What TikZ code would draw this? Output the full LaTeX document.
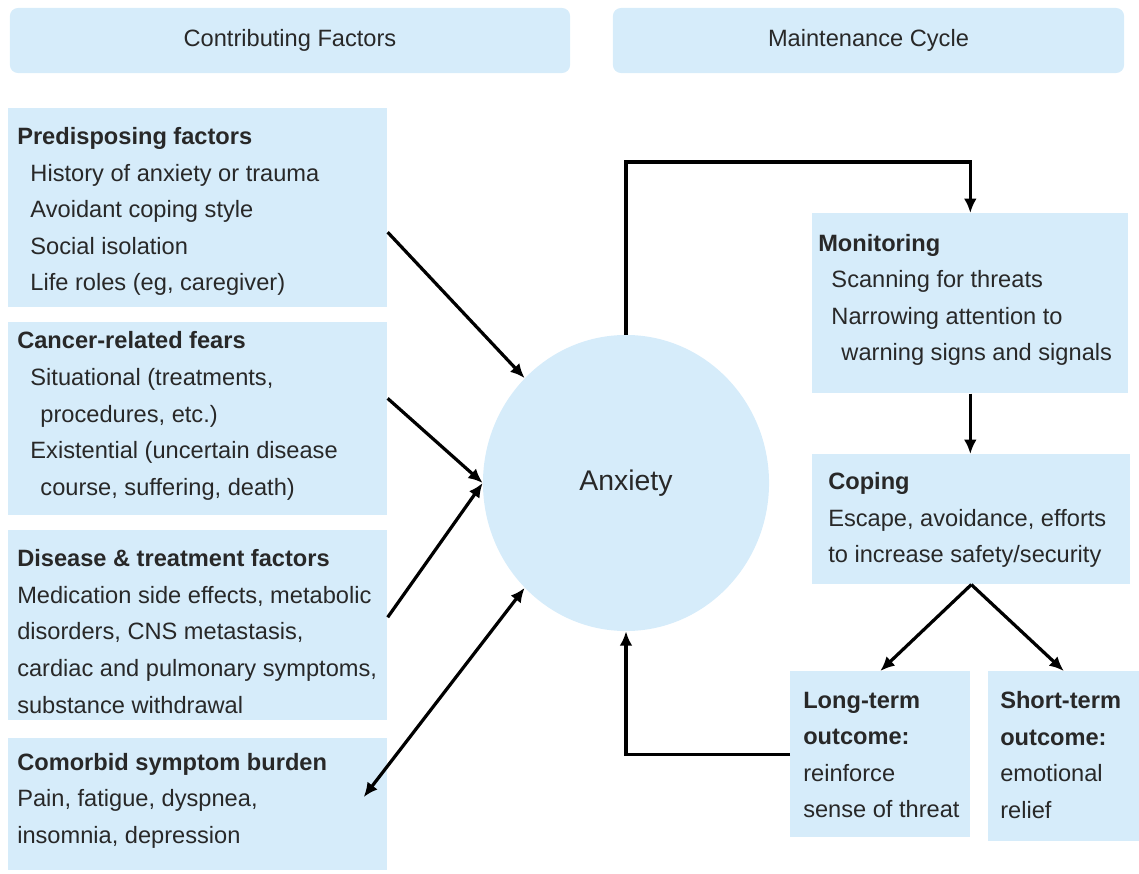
\documentclass[tikz,border=0pt]{standalone}
\usepackage{fontspec}
\setmainfont{Liberation Sans}
\usetikzlibrary{arrows.meta,shapes.geometric}
\definecolor{cardblue}{RGB}{214,236,250}
\definecolor{inkgray}{RGB}{40,40,40}
\newcommand{\ind}{\hspace*{0.33cm}}
\newcommand{\indd}{\hspace*{0.58cm}}
\tikzset{
  card/.style={fill=cardblue, inner sep=0pt, anchor=north west},
  head/.style={fill=cardblue, rounded corners=0.2cm, inner sep=0pt, text=inkgray, font=\fontsize{16.8}{20}\selectfont},
  cardtxt/.style={anchor=west, align=left, inner sep=0pt, text=inkgray, font=\fontsize{16.8}{26}\selectfont},
  arr/.style={-{Latex[length=0.36cm,width=0.32cm]}, line width=2.3pt},
  arrtwo/.style={{Latex[length=0.36cm,width=0.32cm]}-{Latex[length=0.36cm,width=0.32cm]}, line width=2.3pt}
}
\begin{document}
\begin{tikzpicture}[x=0.025cm, y=-0.025cm]
\useasboundingbox (0,0) rectangle (1139,874);
\node[head, minimum width=14cm, minimum height=1.625cm] (hcf) at (290,40.5) {Contributing Factors};
\node[head, minimum width=12.775cm, minimum height=1.625cm] (hmc) at (868.5,40.5) {Maintenance Cycle};

\node[card, minimum width=9.475cm, minimum height=4.975cm] (pre) at (8,108) {};
\node[card, minimum width=9.475cm, minimum height=4.825cm] (cfr) at (8,322) {};
\node[card, minimum width=9.475cm, minimum height=4.75cm] (dis) at (8,530) {};
\node[card, minimum width=9.475cm, minimum height=3.3cm] (com) at (8,738) {};
\node[cardtxt] (pret) at (17,211.5) {\textbf{Predisposing factors}\\\ind History of anxiety or trauma\\\ind Avoidant coping style\\\ind Social isolation\\\ind Life roles (eg, caregiver)};
\node[cardtxt] (cfrt) at (17,416) {\textbf{Cancer-related fears}\\\ind Situational (treatments,\\\indd procedures, etc.)\\\ind Existential (uncertain disease\\\indd course, suffering, death)};
\node[cardtxt] (dist) at (17,631.5) {\textbf{Disease \& treatment factors}\\Medication side effects, metabolic\\disorders, CNS metastasis,\\cardiac and pulmonary symptoms,\\substance withdrawal};
\node[cardtxt] (comt) at (17,800.5) {\textbf{Comorbid symptom burden}\\Pain, fatigue, dyspnea,\\insomnia, depression};

\node[ellipse, fill=cardblue, minimum width=7.15cm, minimum height=7.4cm, inner sep=0pt, text=inkgray, font=\fontsize{20.2}{24}\selectfont] (anx) at (626,483) {Anxiety};

\node[card, minimum width=7.9cm, minimum height=4.5cm] (mon) at (812,213) {};
\node[card, minimum width=7.95cm, minimum height=3.25cm] (cop) at (812,454) {};
\node[card, minimum width=4.5cm, minimum height=4.15cm] (lt) at (790,671) {};
\node[card, minimum width=3.775cm, minimum height=4.25cm] (st) at (988,671) {};
\node[cardtxt] (mont) at (818,300) {\textbf{Monitoring}\\\ind Scanning for threats\\\ind Narrowing attention to\\\indd warning signs and signals};
\node[cardtxt] (copt) at (828,520) {\textbf{Coping}\\Escape, avoidance, efforts\\to increase safety/security};
\node[cardtxt] (ltt) at (803,755) {\textbf{Long-term}\\\textbf{outcome:}\\reinforce\\sense of threat};
\node[cardtxt] (stt) at (1000,755) {\textbf{Short-term}\\\textbf{outcome:}\\emotional\\relief};

\draw[arr] ([yshift=-0.61cm]pre.east) -- (anx.north west);
\draw[arr] ([yshift=0.51cm]cfr.east) -- (anx.west);
\draw[arr] ([yshift=0.2cm]dis.east) -- (anx.west);
\draw[arrtwo] ([xshift=-0.6cm,yshift=0.18cm]com.east) -- (anx.south west);

\coordinate (looptop) at (626,162);
\draw[arr] (anx.north) -- (looptop) -| (mon.north);
\draw[arr] (mon.south) -- (mon.south |- cop.north);
\draw[arr] (cop.south) -- (lt.north);
\draw[arr] (cop.south) -- (st.north);
\draw[arr] (lt.west) -| (anx.south);
\end{tikzpicture}
\end{document}
